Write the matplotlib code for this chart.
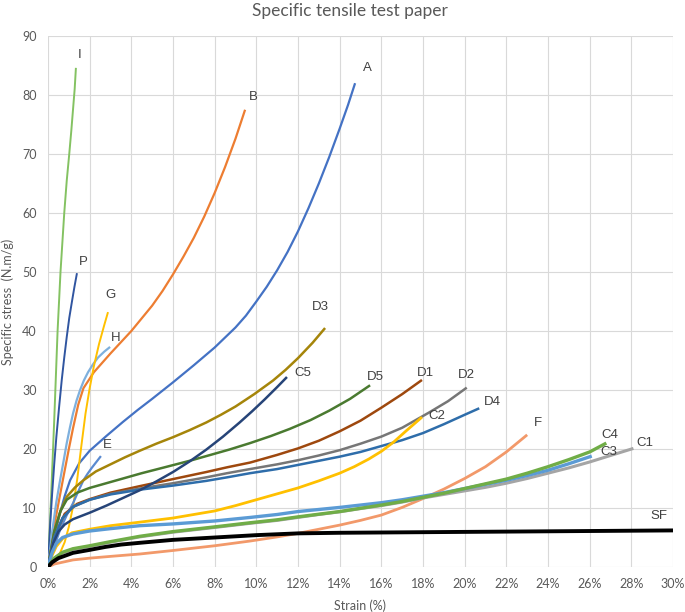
import matplotlib
matplotlib.use("Agg")
import matplotlib.pyplot as plt

# strain (%) / specific stress (N.m/g)
I_x = [0, 0.15, 0.3, 0.46, 0.6, 0.78, 0.9, 1.02, 1.12, 1.2, 1.28, 1.34]
I_y = [0, 12, 25, 40, 50, 60, 65.5, 70, 74, 77.5, 81, 84.6]
P_x = [0, 0.1, 0.2, 0.3, 0.4, 0.53, 0.66, 0.78, 0.9, 1.02, 1.15, 1.27, 1.39]
P_y = [0, 7, 12.5, 17.5, 22, 27, 31.7, 35.5, 39, 42.2, 45, 47.5, 49.8]
G_x = [0, 0.3, 0.58, 0.8, 1.0, 1.2, 1.4, 1.6, 1.8, 2.0, 2.2, 2.45, 2.7, 2.88]
G_y = [0, 1, 2.4, 4.2, 6.8, 10.2, 14.8, 20.5, 26, 30.3, 34, 37.8, 41, 43.2]
H_x = [0, 0.2, 0.4, 0.58, 0.75, 0.9, 1.05, 1.2, 1.37, 1.54, 1.72, 1.92, 2.15, 2.4, 2.7, 2.98]
H_y = [0, 6, 11, 14.7, 18, 21, 23.6, 26, 28.2, 30, 31.6, 33, 34.3, 35.5, 36.5, 37.3]
E_x = [0, 0.3, 0.58, 0.9, 1.2, 1.45, 1.7, 1.9, 2.1, 2.32, 2.54]
E_y = [0, 3.5, 6.3, 8.8, 10.8, 12.8, 14.7, 15.8, 16.8, 17.8, 18.8]
B_x = [0, 0.3, 0.7, 1.0, 1.2, 1.45, 1.7, 2.2, 3, 4, 5, 5.5, 6, 6.5, 7, 7.5, 8, 8.5, 9, 9.46]
B_y = [0, 7, 14.5, 20, 23.5, 27.5, 30.3, 33, 36.2, 40, 44.3, 46.8, 49.6, 52.6, 55.8, 59.4,
       63.4, 67.8, 72.6, 77.5]
A_x = [0, 0.3, 0.58, 0.8, 1.06, 1.5, 2, 2.8, 3.6, 4.3, 5, 6, 7, 8, 9, 9.5, 10, 10.5, 11,
       11.5, 12, 12.5, 13, 13.5, 14, 14.4, 14.74]
A_y = [0, 5, 9.2, 12, 14.7, 17.6, 19.7, 22.2, 24.6, 26.6, 28.5, 31.3, 34.2, 37.2, 40.6,
       42.6, 45, 47.5, 50.3, 53.4, 56.9, 60.8, 65, 69.5, 74.3, 78.3, 82]
D3_x = [0, 0.3, 0.6, 0.9, 1.3, 1.7, 2.3, 3, 3.7, 4.4, 5.2, 6, 6.8, 7.6, 8.3, 9, 9.9,
        10.8, 11.4, 12, 12.7, 13.3]
D3_y = [0, 6, 9.5, 11.9, 13.5, 14.7, 16.2, 17.4, 18.6, 19.7, 20.9, 22, 23.2, 24.5, 25.8,
        27.2, 29.3, 31.6, 33.4, 35.4, 38, 40.5]
C5_x = [0, 0.25, 0.5, 0.8, 1.2, 2, 2.8, 3.6, 4.4, 5.2, 6, 6.8, 7.6, 8.4, 9.2, 9.8,
        10.4, 11, 11.47]
C5_y = [0, 4, 6, 7.2, 8.1, 9.2, 10.4, 11.7, 13, 14.5, 16.1, 17.9, 19.9, 22.1, 24.5, 26.4,
        28.4, 30.5, 32.2]
D5_x = [0, 0.3, 0.6, 0.9, 1.4, 2, 2.8, 3.6, 4.5, 5.6, 6.8, 7.8, 8.7, 9.7, 10.7, 11.6,
        12.6, 13.5, 14.5, 15.46]
D5_y = [0, 6, 9.5, 11.4, 12.6, 13.4, 14.2, 15, 15.9, 16.9, 18, 19, 19.9, 21, 22.2,
        23.4, 24.9, 26.5, 28.5, 30.8]
D1_x = [0, 0.3, 0.8, 1.4, 2, 3, 4.4, 6, 7.6, 8.6, 9.7, 11, 12, 13, 14, 15, 16, 17, 17.95]
D1_y = [0, 5, 9, 10.7, 11.5, 12.6, 13.7, 14.9, 16.1, 16.9, 17.7, 19, 20.1, 21.4, 23,
        24.8, 27, 29.3, 31.7]
D2_x = [0, 0.3, 0.7, 1.2, 2, 3, 4.4, 6, 7.6, 8.6, 9.7, 11, 12, 13, 14, 15, 16, 17,
        17.5, 18.3, 19.2, 20.1]
D2_y = [0, 5, 8.3, 10.2, 11.4, 12.4, 13.3, 14.2, 15.2, 15.9, 16.6, 17.4, 18.1, 18.9,
        19.8, 20.9, 22.1, 23.6, 24.6, 26.2, 28.1, 30.4]
D4_x = [0, 0.3, 0.7, 1.2, 2, 3, 4.4, 6, 7.6, 8.6, 9.7, 11, 12, 13, 14, 15, 16, 17, 18,
        19, 20, 20.7]
D4_y = [0, 5, 8.3, 10.2, 11.4, 12.3, 13.1, 13.8, 14.6, 15.2, 15.9, 16.6, 17.3, 18, 18.7,
        19.5, 20.5, 21.5, 22.7, 24.2, 25.8, 26.9]
C2_x = [0, 0.2, 0.4, 0.7, 1.15, 2, 3, 4.4, 6, 8, 9, 9.7, 10.5, 11.2, 12, 13, 14, 14.7,
        15.4, 16, 16.6, 17.2, 17.95]
C2_y = [0, 2, 3.5, 4.8, 5.8, 6.4, 7, 7.6, 8.3, 9.5, 10.4, 11.1, 11.9, 12.6, 13.4, 14.6,
        15.9, 17, 18.3, 19.6, 21.2, 23.1, 25.4]
F_x = [0, 0.3, 1.2, 2, 3, 4.4, 6, 8, 9.7, 11, 12, 13, 14, 15, 16, 17, 18, 19, 20, 21,
       22, 23]
F_y = [0, 0.5, 1.2, 1.5, 1.8, 2.2, 2.8, 3.6, 4.4, 5.1, 5.7, 6.4, 7.1, 7.9, 8.8, 10.1,
       11.6, 13.2, 15, 17, 19.5, 22.4]
C1_x = [0, 0.3, 0.7, 1.2, 2, 3, 4.4, 6, 8, 9.7, 11, 12, 13, 14, 15, 16, 17, 18, 19, 20,
        21, 22, 23, 24, 25, 26, 27, 28.1]
C1_y = [0, 1.5, 2.4, 3, 3.5, 4.2, 5.1, 5.9, 6.7, 7.4, 7.9, 8.4, 8.9, 9.35, 9.9, 10.4,
        11, 11.7, 12.3, 12.9, 13.5, 14.2, 15, 15.9, 16.8, 17.8, 18.9, 20.1]
C3_x = [0, 0.2, 0.4, 0.7, 1.2, 2, 3, 4.4, 6, 8, 9.7, 11, 12, 13, 14, 15, 16, 17, 18,
        19, 20, 21, 22, 23, 24, 25, 26.1]
C3_y = [0, 2.5, 4, 5, 5.6, 6.1, 6.5, 7, 7.3, 7.8, 8.4, 8.9, 9.4, 9.75, 10.1, 10.5, 10.9,
        11.4, 12, 12.6, 13.3, 14, 14.7, 15.5, 16.4, 17.5, 18.8]
C4_x = [0, 0.3, 0.7, 1.2, 2, 3, 4.4, 6, 8, 9.7, 11, 12, 13, 14, 15, 16, 17, 18, 19, 20,
        21, 22, 23, 24, 25, 26, 26.8]
C4_y = [0, 1.5, 2.5, 3.1, 3.6, 4.3, 5.2, 6, 6.8, 7.5, 8, 8.5, 8.95, 9.4, 9.95, 10.5,
        11.1, 11.8, 12.5, 13.3, 14.1, 14.9, 15.9, 17, 18.2, 19.5, 21]
SF_x = [0, 0.2, 0.5, 1.2, 2, 2.75, 3.5, 4.4, 6, 8, 10, 12, 14, 18, 22, 26, 30]
SF_y = [0, 0.8, 1.5, 2.4, 2.9, 3.4, 3.8, 4.1, 4.6, 5.0, 5.4, 5.7, 5.8, 5.9, 6.0, 6.1, 6.2]

# name, x, y, colour, width (pt), label offset (px right, px up)
series = [
    ("I", I_x, I_y, "#84C262", 1.4, (4, 13)),
    ("P", P_x, P_y, "#3055A0", 1.4, (6, 11)),
    ("B", B_x, B_y, "#ED7D31", 1.6, (8, 13)),
    ("A", A_x, A_y, "#4472C4", 1.6, (12, 15)),
    ("H", H_x, H_y, "#7EB0DD", 1.6, (6, 9)),
    ("G", G_x, G_y, "#FFC000", 1.4, (2, 17)),
    ("E", E_x, E_y, "#5A8AD0", 1.6, (6, 11)),
    ("D3", D3_x, D3_y, "#A5850A", 1.8, (-5, 21)),
    ("D5", D5_x, D5_y, "#4A7A30", 1.8, (5, 8)),
    ("D1", D1_x, D1_y, "#9E480E", 1.8, (3, 7)),
    ("D2", D2_x, D2_y, "#767676", 1.8, (0, 13)),
    ("D4", D4_x, D4_y, "#2E6DAA", 1.8, (13, 6)),
    ("C5", C5_x, C5_y, "#264478", 1.8, (16, 4)),
    ("C2", C2_x, C2_y, "#FFC000", 2.0, (15, 1)),
    ("F", F_x, F_y, "#F2996A", 2.0, (11, 12)),
    ("C1", C1_x, C1_y, "#A5A5A5", 2.2, (11, 5)),
    ("C3", C3_x, C3_y, "#5B9BD5", 2.4, (17, 4)),
    ("C4", C4_x, C4_y, "#70AD47", 2.4, (3, 8)),
    ("SF", SF_x, SF_y, "#000000", 2.8, (-14, 14)),
]

fig = plt.figure(figsize=(6.85, 6.12), dpi=100)
ax = fig.add_axes([48/685, 1 - 567/612, 625/685, 531/612])

for name, xs, ys, col, lw, off in series:
    ax.plot(xs, ys, color=col, lw=lw, solid_capstyle="butt", solid_joinstyle="round")
    ax.annotate(name, (xs[-1], ys[-1]), xytext=(off[0]*0.72, off[1]*0.72),
                textcoords="offset points", ha="center", va="center",
                fontsize=9.5, color="#404040", family="Liberation Sans")

ax.set_xlim(0, 30)
ax.set_ylim(0, 90)
ax.set_xticks(range(0, 31, 2))
ax.set_xticklabels([f"{v}%" for v in range(0, 31, 2)])
ax.set_yticks(range(0, 91, 10))
ax.grid(color="#D9D9D9", lw=0.8)
ax.set_axisbelow(True)
for s in ax.spines.values():
    s.set_visible(False)
ax.tick_params(length=0, labelsize=9, labelcolor="#595959", pad=8)
for t in ax.get_xticklabels() + ax.get_yticklabels():
    t.set_family("Lato")

ax.set_xlabel("Strain (%)", fontsize=9, color="#595959", family="Lato", labelpad=7)
ax.set_ylabel("Specific stress  (N.m/g)", fontsize=9, color="#595959", family="Lato", labelpad=6)
fig.text(350/685, 1 - 11/612, "Specific tensile test paper", fontsize=12.5,
         color="#595959", family="Lato", ha="center", va="center")

fig.savefig("out.png", dpi=100)
